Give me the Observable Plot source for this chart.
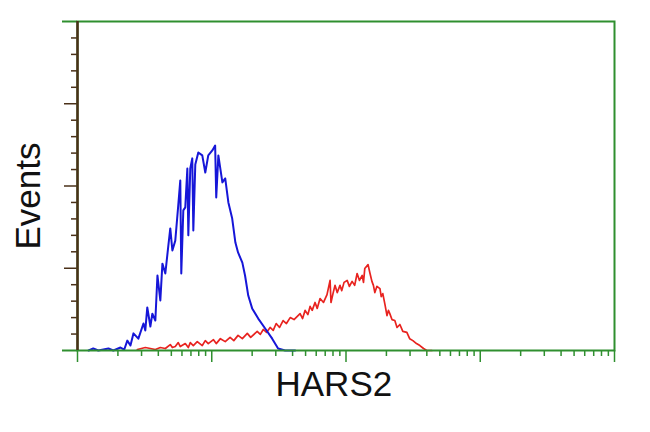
<!DOCTYPE html>
<html>
<head>
<meta charset="utf-8">
<script src="https://cdn.jsdelivr.net/npm/d3@7"></script>
<script src="https://cdn.jsdelivr.net/npm/@observablehq/plot@0.6"></script>
<style>
  html, body { margin: 0; padding: 0; background: #fff; }
  #chart svg { display: block; }
</style>
</head>
<body>
<div id="chart"></div>
<script>
// Blue histogram (control): fluorescence intensity vs events
const blueX = [1.21, 1.31, 1.43, 1.70, 1.85, 2.09, 2.23, 2.35, 2.48, 2.61, 2.84, 3.10, 3.20, 3.31, 3.49, 3.61, 3.80, 3.94, 4.14, 4.29, 4.51, 4.75, 4.91, 5.09, 5.35, 5.63, 5.83, 5.93, 6.14, 6.35, 6.58, 6.69, 6.92, 7.16, 7.29, 7.54, 7.94, 8.50, 8.95, 9.42, 10.1, 10.6, 10.8, 11.2, 12.0, 12.6, 13.3, 14.2, 15.0, 15.7, 16.9, 17.7, 18.7, 20.0, 22.2, 25.0, 28.2, 31.2, 35.2, 41.8];
const blueY = [0, 0.6, 0, 0.6, 0, 0.9, 0.3, 3.0, 1.5, 5.2, 3.6, 8.2, 6.1, 13.1, 7.3, 11.2, 9.1, 22.8, 15.2, 26.4, 23.4, 31.9, 37.1, 30.4, 33.4, 44.1, 51.7, 23.4, 42.6, 43.5, 55.3, 35.0, 55.3, 58.4, 36.5, 56.5, 60.2, 59.3, 54.1, 59.3, 60.8, 62.3, 46.5, 59.3, 51.1, 52.3, 45.0, 40.1, 32.8, 29.8, 26.7, 22.8, 16.7, 12.8, 9.7, 6.7, 3.6, 0.6, 0, 0];

// Red histogram (HARS2 stained)
const redX = [2.79, 3.20, 3.49, 3.80, 4.14, 4.51, 4.91, 5.09, 5.35, 5.63, 5.83, 6.35, 6.69, 6.92, 7.29, 7.80, 8.50, 8.95, 9.42, 10.3, 10.8, 11.6, 12.6, 13.7, 14.6, 15.7, 16.9, 18.4, 19.5, 21.8, 23.0, 24.2, 25.6, 27.2, 28.7, 30.2, 32.0, 34.0, 36.0, 38.4, 41.0, 45.5, 47.5, 49.6, 52.0, 54.0, 56.0, 58.8, 61.0, 64.1, 68.0, 72.2, 76.1, 77.3, 80.0, 82.8, 86.0, 90.2, 93.0, 96.7, 102, 106, 111, 116, 121, 126, 132, 135, 138, 146, 151, 156, 160, 164, 170, 179, 183, 188, 195, 202, 207, 212, 220, 231, 240, 252, 265, 284, 298, 315, 335, 355, 378, 400, 436];
const redY = [0.3, 0.9, 0.6, 0.3, 0.9, 0.6, 1.8, 0.9, 1.2, 2.4, 1.2, 2.1, 0.9, 2.4, 1.5, 2.7, 1.5, 3.0, 2.1, 3.3, 2.1, 3.6, 2.7, 4.0, 3.0, 4.6, 3.6, 5.2, 4.0, 5.8, 4.9, 6.4, 5.5, 7.0, 6.1, 8.2, 7.0, 9.1, 8.2, 10.0, 9.4, 11.2, 9.7, 12.2, 10.9, 13.4, 12.2, 14.6, 12.8, 15.8, 14.6, 17.0, 21.3, 14.6, 17.3, 19.8, 17.6, 19.8, 18.2, 20.7, 21.3, 19.5, 21.0, 19.8, 23.4, 21.3, 22.8, 20.7, 24.9, 26.1, 23.4, 21.0, 19.8, 17.6, 19.5, 18.8, 16.4, 17.3, 14.0, 10.6, 12.2, 11.2, 9.4, 9.1, 7.0, 7.9, 5.8, 5.5, 3.6, 3.0, 2.1, 1.5, 0.6, 0, 0];

// Axis ticks
const xMajorTicks = [1, 10, 100, 1000, 10000];
const xMinorTicks = [2, 3, 4, 5, 6, 7, 8, 9, 20, 30, 40, 50, 60, 70, 80, 90, 200, 300, 400, 500, 600, 700, 800, 900, 2000, 3000, 4000, 5000, 6000, 7000, 8000, 9000];
const yEndTicks = [0, 100];
const yMajorTicks = [25, 50, 75];
const yMinorTicks = [5, 10, 15, 20, 30, 35, 40, 45, 55, 60, 65, 70, 80, 85, 90, 95];

const xLabel = "HARS2";
const yLabel = "Events";

const blue = blueX.map((x, i) => ({x, y: blueY[i]}));
const red = redX.map((x, i) => ({x, y: redY[i]}));

const green = "#2f8f2f";
const brown = "#4a3018";
const noText = () => "";

const chart = Plot.plot({
  width: 650,
  height: 432,
  marginLeft: 77,
  marginRight: 36,
  marginTop: 21,
  marginBottom: 82,
  style: {fontFamily: "'Liberation Sans', Arial, sans-serif", background: "#fff"},
  x: {type: "log", domain: [1, 10000]},
  y: {domain: [0, 100]},
  marks: [
    Plot.axisX({ticks: xMinorTicks, tickSize: 6, tickFormat: noText, stroke: green, strokeWidth: 1.5, label: null}),
    Plot.axisX({ticks: xMajorTicks, tickSize: 12, tickFormat: noText, stroke: green, strokeWidth: 1.5, label: null}),
    Plot.axisY({ticks: yMinorTicks, tickSize: 6, tickFormat: noText, stroke: brown, strokeWidth: 1.5, label: null}),
    Plot.axisY({ticks: yMajorTicks, tickSize: 13, tickFormat: noText, stroke: brown, strokeWidth: 1.5, label: null}),
    Plot.axisY({ticks: yEndTicks, tickSize: 15, tickFormat: noText, stroke: green, strokeWidth: 2, label: null}),
    Plot.line(red, {x: "x", y: "y", stroke: "#e8231f", strokeWidth: 1.7}),
    Plot.line(blue, {x: "x", y: "y", stroke: "#1616d8", strokeWidth: 2}),
    Plot.frame({stroke: green, strokeWidth: 2}),
    Plot.ruleX([1], {stroke: brown, strokeWidth: 2.5}),
    Plot.text([xLabel], {frameAnchor: "bottom-left", text: d => d, textAnchor: "start", dx: 198, dy: 45, fontSize: 35, fill: "#111"}),
    Plot.text([yLabel], {frameAnchor: "left", text: d => d, textAnchor: "middle", rotate: -90, dx: -49, dy: 10, fontSize: 35, fill: "#111"})
  ]
});
document.getElementById("chart").appendChild(chart);
</script>
</body>
</html>
